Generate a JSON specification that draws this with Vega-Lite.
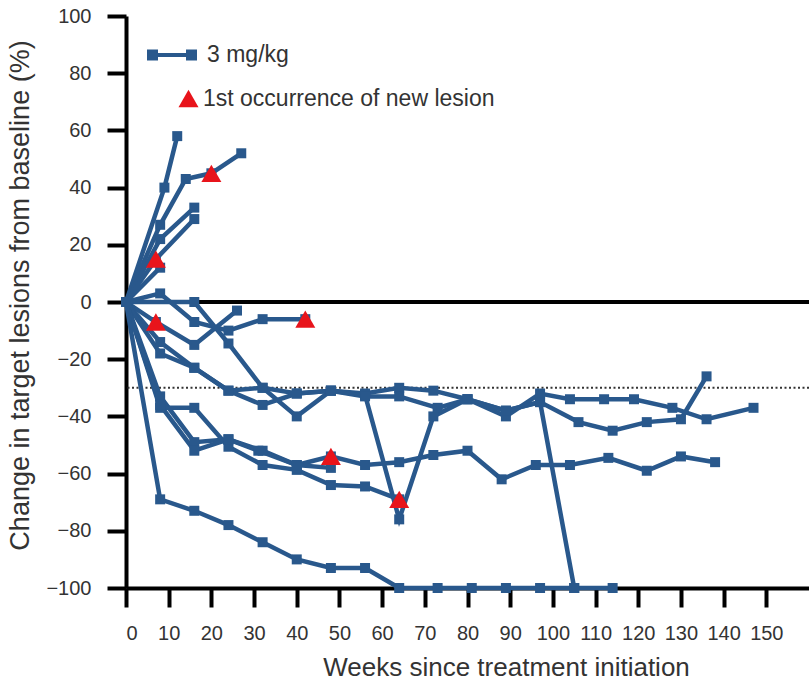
{
  "$schema": "https://vega.github.io/schema/vega-lite/v6.json",
  "width": 683,
  "height": 572,
  "autosize": {"type": "none"},
  "padding": {"left": 126, "top": 16, "right": 0, "bottom": 98},
  "background": "white",
  "config": {
    "view": {"stroke": null},
    "font": "Liberation Sans",
    "axis": {
      "grid": false,
      "domainColor": "black",
      "domainWidth": 4,
      "tickColor": "black",
      "tickWidth": 4,
      "tickSize": 19,
      "labelFont": "Liberation Sans",
      "labelFontSize": 20,
      "labelColor": "#333333",
      "labelPadding": 16,
      "titleFont": "Liberation Sans",
      "titleFontWeight": "normal",
      "titleColor": "#333333"
    },
    "legend": {
      "labelFont": "Liberation Sans",
      "labelFontSize": 23,
      "labelColor": "#333333",
      "labelLimit": 0,
      "padding": 0
    }
  },
  "datasets": {
    "patients": [
      {"id": "A", "week": 0, "pct": 0}, {"id": "A", "week": 9, "pct": 40}, {"id": "A", "week": 12, "pct": 58},
      {"id": "B", "week": 0, "pct": 0}, {"id": "B", "week": 8, "pct": 27}, {"id": "B", "week": 14, "pct": 43}, {"id": "B", "week": 20, "pct": 45}, {"id": "B", "week": 27, "pct": 52},
      {"id": "C", "week": 0, "pct": 0}, {"id": "C", "week": 8, "pct": 22}, {"id": "C", "week": 16, "pct": 33},
      {"id": "D", "week": 0, "pct": 0}, {"id": "D", "week": 7, "pct": 15}, {"id": "D", "week": 16, "pct": 29},
      {"id": "E", "week": 0, "pct": 0}, {"id": "E", "week": 8, "pct": 12},
      {"id": "F", "week": 0, "pct": 0}, {"id": "F", "week": 8, "pct": 3}, {"id": "F", "week": 16, "pct": -7}, {"id": "F", "week": 24, "pct": -10}, {"id": "F", "week": 32, "pct": -6}, {"id": "F", "week": 42, "pct": -6},
      {"id": "G", "week": 0, "pct": 0}, {"id": "G", "week": 7, "pct": -7}, {"id": "G", "week": 16, "pct": -15}, {"id": "G", "week": 26, "pct": -3},
      {"id": "H", "week": 0, "pct": 0}, {"id": "H", "week": 16, "pct": 0}, {"id": "H", "week": 24, "pct": -14.5}, {"id": "H", "week": 32, "pct": -30}, {"id": "H", "week": 40, "pct": -40}, {"id": "H", "week": 48, "pct": -31}, {"id": "H", "week": 56, "pct": -32.5}, {"id": "H", "week": 64, "pct": -76}, {"id": "H", "week": 72, "pct": -40}, {"id": "H", "week": 80, "pct": -34}, {"id": "H", "week": 89, "pct": -38}, {"id": "H", "week": 97, "pct": -35}, {"id": "H", "week": 105, "pct": -100},
      {"id": "N", "week": 0, "pct": 0}, {"id": "N", "week": 8, "pct": -14}, {"id": "N", "week": 16, "pct": -23}, {"id": "N", "week": 24, "pct": -31}, {"id": "N", "week": 32, "pct": -36}, {"id": "N", "week": 40, "pct": -32}, {"id": "N", "week": 48, "pct": -31}, {"id": "N", "week": 56, "pct": -32}, {"id": "N", "week": 64, "pct": -30}, {"id": "N", "week": 72, "pct": -31}, {"id": "N", "week": 80, "pct": -34}, {"id": "N", "week": 89, "pct": -40}, {"id": "N", "week": 97, "pct": -32}, {"id": "N", "week": 104, "pct": -34}, {"id": "N", "week": 112, "pct": -34}, {"id": "N", "week": 119, "pct": -34}, {"id": "N", "week": 128, "pct": -37}, {"id": "N", "week": 136, "pct": -41}, {"id": "N", "week": 147, "pct": -37},
      {"id": "O", "week": 0, "pct": 0}, {"id": "O", "week": 8, "pct": -18}, {"id": "O", "week": 16, "pct": -23}, {"id": "O", "week": 24, "pct": -31}, {"id": "O", "week": 32, "pct": -30}, {"id": "O", "week": 40, "pct": -32}, {"id": "O", "week": 48, "pct": -31}, {"id": "O", "week": 56, "pct": -33}, {"id": "O", "week": 64, "pct": -33}, {"id": "O", "week": 73, "pct": -37}, {"id": "O", "week": 80, "pct": -34}, {"id": "O", "week": 89, "pct": -38}, {"id": "O", "week": 97, "pct": -35}, {"id": "O", "week": 106, "pct": -42}, {"id": "O", "week": 114, "pct": -45}, {"id": "O", "week": 122, "pct": -42}, {"id": "O", "week": 130, "pct": -41}, {"id": "O", "week": 136, "pct": -26},
      {"id": "K", "week": 0, "pct": 0}, {"id": "K", "week": 8, "pct": -33}, {"id": "K", "week": 16, "pct": -49}, {"id": "K", "week": 24, "pct": -48}, {"id": "K", "week": 32, "pct": -52}, {"id": "K", "week": 40, "pct": -57}, {"id": "K", "week": 48, "pct": -54}, {"id": "K", "week": 56, "pct": -57}, {"id": "K", "week": 64, "pct": -56}, {"id": "K", "week": 72, "pct": -53.5}, {"id": "K", "week": 80, "pct": -52}, {"id": "K", "week": 88, "pct": -62}, {"id": "K", "week": 96, "pct": -57}, {"id": "K", "week": 104, "pct": -57}, {"id": "K", "week": 113, "pct": -54.5}, {"id": "K", "week": 122, "pct": -59}, {"id": "K", "week": 130, "pct": -54}, {"id": "K", "week": 138, "pct": -56},
      {"id": "L", "week": 0, "pct": 0}, {"id": "L", "week": 8, "pct": -37}, {"id": "L", "week": 16, "pct": -37}, {"id": "L", "week": 24, "pct": -50.6}, {"id": "L", "week": 32, "pct": -57}, {"id": "L", "week": 40, "pct": -58.7}, {"id": "L", "week": 48, "pct": -64}, {"id": "L", "week": 56, "pct": -64.5}, {"id": "L", "week": 64, "pct": -69},
      {"id": "M", "week": 0, "pct": 0}, {"id": "M", "week": 8, "pct": -36}, {"id": "M", "week": 16, "pct": -52}, {"id": "M", "week": 24, "pct": -48}, {"id": "M", "week": 31, "pct": -52}, {"id": "M", "week": 40, "pct": -57}, {"id": "M", "week": 48, "pct": -58},
      {"id": "P", "week": 0, "pct": 0}, {"id": "P", "week": 8, "pct": -69}, {"id": "P", "week": 16, "pct": -73}, {"id": "P", "week": 24, "pct": -78}, {"id": "P", "week": 32, "pct": -84}, {"id": "P", "week": 40, "pct": -90}, {"id": "P", "week": 48, "pct": -93}, {"id": "P", "week": 56, "pct": -93}, {"id": "P", "week": 64, "pct": -100}, {"id": "P", "week": 73, "pct": -100}, {"id": "P", "week": 81, "pct": -100}, {"id": "P", "week": 89, "pct": -100}, {"id": "P", "week": 97, "pct": -100}, {"id": "P", "week": 105, "pct": -100}, {"id": "P", "week": 114, "pct": -100}
    ],
    "newlesion": [
      {"week": 20, "pct": 45}, {"week": 7, "pct": 15}, {"week": 7, "pct": -7}, {"week": 42, "pct": -6}, {"week": 48, "pct": -54}, {"week": 64, "pct": -69}
    ]
  },
  "layer": [
    {
      "data": {"values": [{}]},
      "mark": {"type": "rule", "color": "black", "strokeWidth": 4},
      "encoding": {"y": {"datum": 0, "type": "quantitative", "scale": {"domain": [-100, 100]}}}
    },
    {
      "data": {"values": [{}]},
      "mark": {"type": "rule", "color": "#333333", "strokeWidth": 2, "strokeDash": [2, 2.5]},
      "encoding": {"y": {"datum": -30, "type": "quantitative"}}
    },
    {
      "data": {"name": "patients"},
      "mark": {"type": "line", "color": "#29588c", "strokeWidth": 4.5},
      "encoding": {
        "x": {"field": "week", "type": "quantitative", "scale": {"domain": [0, 160], "nice": false},
              "axis": {"values": [0,10,20,30,40,50,60,70,80,90,100,110,120,130,140,150], "title": "Weeks since treatment initiation", "titleFontSize": 26, "titlePadding": 11, "titleX": 380}},
        "y": {"field": "pct", "type": "quantitative", "scale": {"domain": [-100, 100], "nice": false},
              "axis": {"values": [-100,-80,-60,-40,-20,0,20,40,60,80,100], "title": "Change in target lesions from baseline (%)", "titleFontSize": 27, "titlePadding": 11, "titleY": 279}},
        "detail": {"field": "id"}
      }
    },
    {
      "data": {"name": "patients"},
      "mark": {"type": "point", "shape": "square", "filled": true, "size": 100, "opacity": 1},
      "encoding": {
        "x": {"field": "week", "type": "quantitative"},
        "y": {"field": "pct", "type": "quantitative"},
        "color": {"datum": "3 mg/kg", "type": "nominal", "scale": {"range": ["#29588c"]},
          "legend": {"title": null, "orient": "none", "legendX": 21, "legendY": 14,
            "symbolType": "M-1,-0.22H-0.56V0.22H-1Z M0.56,-0.22H1V0.22H0.56Z M-0.6,-0.08H0.6V0.08H-0.6Z",
            "symbolSize": 2500, "symbolFillColor": "#29588c", "symbolStrokeWidth": 0, "labelOffset": 10,
            "encode": {"symbols": {"update": {"shape": {"value": "M-1,-0.22H-0.56V0.22H-1Z M0.56,-0.22H1V0.22H0.56Z M-0.6,-0.08H0.6V0.08H-0.6Z"}, "size": {"value": 2500}, "fill": {"value": "#29588c"}, "strokeWidth": {"value": 0}, "opacity": {"value": 1}}}}}}
      }
    },
    {
      "data": {"name": "newlesion"},
      "mark": {"type": "point", "filled": true, "color": "#e8141b", "size": 400, "opacity": 1},
      "encoding": {
        "x": {"field": "week", "type": "quantitative"},
        "y": {"field": "pct", "type": "quantitative"},
        "shape": {"datum": "1st occurrence of new lesion", "type": "nominal", "scale": {"range": ["triangle-up"]},
          "legend": {"title": null, "orient": "none", "legendX": 51, "legendY": 71,
            "symbolSize": 400, "symbolFillColor": "#e8141b", "symbolStrokeWidth": 0, "labelOffset": 3,
            "encode": {"symbols": {"update": {"fill": {"value": "#e8141b"}, "strokeWidth": {"value": 0}, "opacity": {"value": 1}}}}}}
      }
    }
  ]
}
